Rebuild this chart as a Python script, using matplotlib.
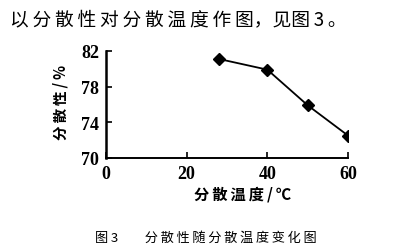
import matplotlib
matplotlib.use("Agg")
import matplotlib.pyplot as plt

plt.rcParams['font.family'] = ['Noto Sans CJK SC', 'DejaVu Sans']

# data
temp = [28, 40, 50, 60]          # 分散温度 / ℃
disp = [81.1, 79.9, 75.9, 72.5]  # 分散性 / %
xticks = [0, 20, 40, 60]
yticks = [70, 74, 78, 82]


def spaced(s):
    # loose letter spacing like the scanned page
    return '\u2009'.join(s)


fig = plt.figure(figsize=(4.09, 2.51), dpi=100)
ax = fig.add_axes([0.259, 0.367, 0.592, 0.426])

ax.plot(temp, disp, color='black', lw=1.3, marker='D', ms=6.5,
        markerfacecolor='black', markeredgecolor='black')

ax.set_xlim(0, 60)
ax.set_ylim(70, 82)
ax.set_xticks(xticks)
ax.set_yticks(yticks)
ax.set_xticklabels([str(v) for v in xticks], family='Liberation Serif',
                   fontweight='bold', fontsize=13)
ax.set_yticklabels([str(v) for v in yticks], family='Liberation Serif',
                   fontweight='bold', fontsize=13)
ax.tick_params(direction='in', length=4, width=1.2, pad=5)
ax.tick_params(axis='x', pad=5)

for s in ['top', 'right']:
    ax.spines[s].set_visible(False)
ax.spines['left'].set_linewidth(1.8)
ax.spines['bottom'].set_linewidth(1.4)

ax.set_xlabel(spaced('分散温度/℃'), fontsize=11, fontweight='bold')
ax.xaxis.set_label_coords(0.565, -0.26)
ax.set_ylabel(spaced('分散性/%'), fontsize=10.5, fontweight='bold')
ax.yaxis.set_label_coords(-0.155, 0.53)

fig.text(0.024, 0.92, spaced('以分散性对分散温度作图') + '，见图\u20093\u2009。',
         fontsize=13.5, va='center', ha='left')
fig.text(0.232, 0.052, '图\u20093\u2003\u2003' + spaced('分散性随分散温度变化图'),
         fontsize=9.5, va='center', ha='left', fontweight='light')

fig.savefig('out.png', dpi=100)
